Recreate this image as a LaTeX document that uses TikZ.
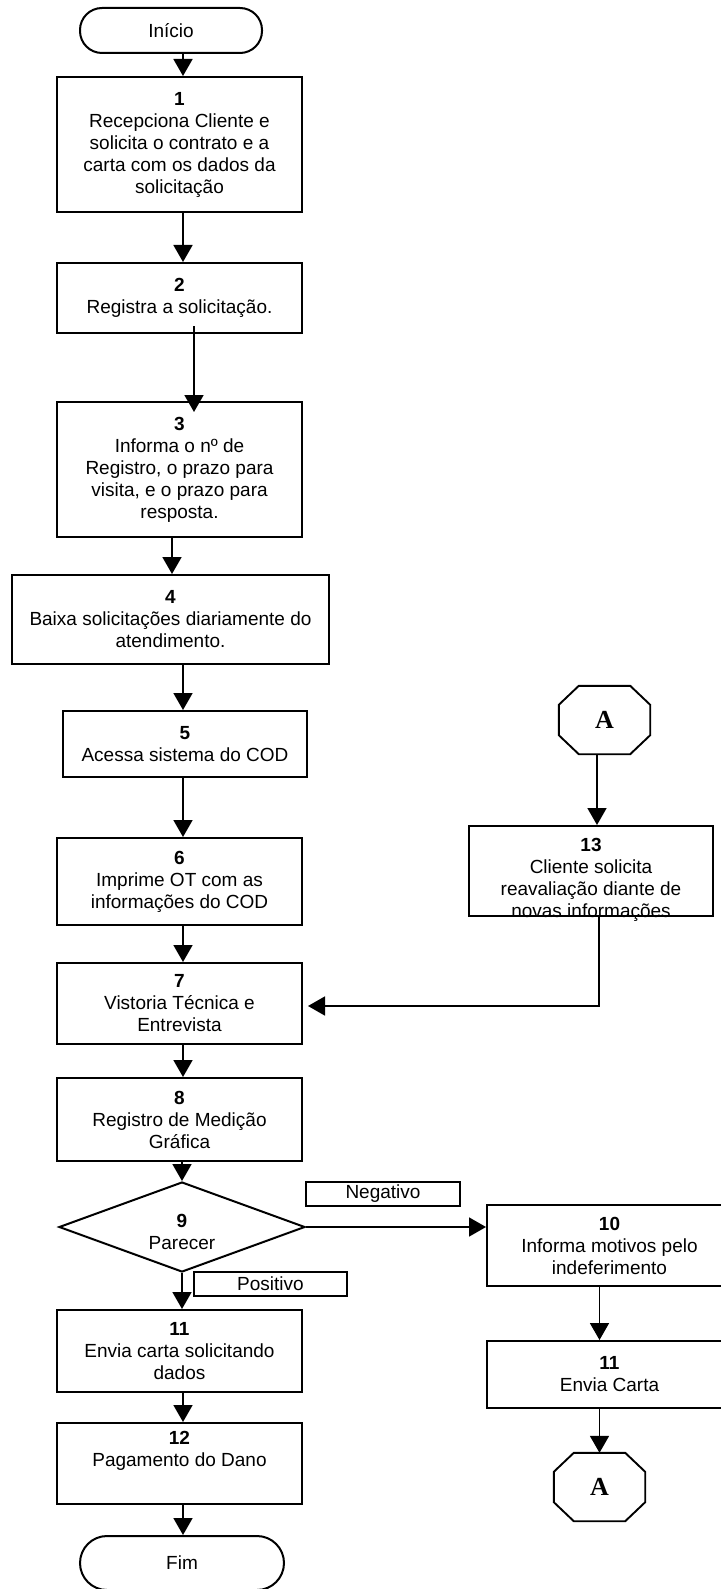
\documentclass[tikz,border=0pt]{standalone}
\usepackage{fontspec}
\setmainfont{Liberation Sans}
\newfontfamily\connfont{Liberation Serif}
\usetikzlibrary{arrows.meta,shapes.geometric,calc}

% octagonal off-page connector drawn round a named node
\newcommand\octpath[1]{%
  \draw[line width=1.9pt, line join=miter]
    ($(#1.north west)+(20,0)$) -- ($(#1.north east)+(-20,0)$)
    -- ($(#1.north east)+(0,19)$) -- ($(#1.south east)+(0,-19)$)
    -- ($(#1.south east)+(-20,0)$) -- ($(#1.south west)+(20,0)$)
    -- ($(#1.south west)+(0,-19)$) -- ($(#1.north west)+(0,19)$) -- cycle;}

\begin{document}
\begin{tikzpicture}[x=1pt,y=-1pt,
  every node/.style={font=\fontsize{19}{22}\selectfont, align=center, inner sep=0pt},
  stepbox/.style={draw, line width=2pt, minimum height=#1},
  stepbox/.default=80pt,
  terminal/.style={draw, line width=2pt},
  tag/.style={draw, line width=1.7pt, minimum width=154pt, minimum height=24pt},
  conn/.style={minimum width=91pt, minimum height=68pt,
    font=\connfont\bfseries\fontsize{26}{26}\selectfont},
  arr/.style={line width=1.8pt, -{Triangle[width=19pt,length=17pt]}}
]
\path[fill=white, use as bounding box] (0,0) rectangle (720,1589);

% x positions of the vertical connectors
\coordinate (xa) at (183,0);
\coordinate (xb) at (194,0);
\coordinate (xc) at (172,0);
\coordinate (xr) at (599.5,0);
\coordinate (xq) at (597,0);
\coordinate (turn) at (599,1006);

% main column
\node[terminal, rounded corners=22pt, minimum width=182pt, minimum height=45pt] (inicio) at (171,30.5) {Início};
\node[stepbox=135pt, minimum width=245pt] (b1) at (179.5,144.5)
  {\textbf{1}\\Recepciona Cliente e\\solicita o contrato e a\\carta com os dados da\\solicitação};
\node[stepbox=70pt, minimum width=245pt] (b2) at (179.5,298)
  {\textbf{2}\\Registra a solicitação.};
\node[stepbox=135pt, minimum width=245pt] (b3) at (179.5,469.5)
  {\textbf{3}\\Informa o nº de\\Registro, o prazo para\\visita, e o prazo para\\resposta.};
\node[stepbox=89pt, minimum width=317pt] (b4) at (170.5,619.5)
  {\textbf{4}\\Baixa solicitações diariamente do\\atendimento.};
\node[stepbox=66pt, minimum width=244pt] (b5) at (185,744)
  {\textbf{5}\\Acessa sistema do COD};
\node[stepbox=87pt, minimum width=245pt] (b6) at (179.5,881.5)
  {\textbf{6}\\Imprime OT com as\\informações do COD};
\node[stepbox=81pt, minimum width=245pt] (b7) at (179.5,1003.5)
  {\textbf{7}\\Vistoria Técnica e\\Entrevista};
\node[stepbox=83pt, minimum width=245pt] (b8) at (179.5,1119.5)
  {\textbf{8}\\Registro de Medição\\Gráfica};
\node[draw, diamond, aspect=2.73, line width=2pt, minimum width=246pt, minimum height=90pt] (d9) at (182,1227) {};
\node (t9) at ([yshift=-5pt]d9.center) {\textbf{9}\\Parecer};
\node[tag] (neg) at (383,1194) {Negativo};
\node[tag, minimum width=153pt] (pos) at (270.5,1284) {Positivo};
\node[stepbox=82pt, minimum width=245pt] (b11a) at (179.5,1351)
  {\textbf{11}\\Envia carta solicitando\\dados};
\node[stepbox=81pt, minimum width=245pt] (b12) at (179.5,1463.5)
  {\textbf{12}\\Pagamento do Dano\\\strut};
\node[terminal, rounded corners=27pt, minimum width=204pt, minimum height=54pt] (fim) at (182,1563) {Fim};

% right column
\node[conn] (a1) at (604.5,720) {A};
\octpath{a1}
\node[stepbox=90pt, minimum width=244pt] (b13) at (591,871) {};
\node (t13) at ([yshift=-9pt]b13.center)
  {\textbf{13}\\Cliente solicita\\reavaliação diante de\\novas informações};
\node[stepbox=81pt, minimum width=245pt] (b10) at (609.5,1245.5)
  {\textbf{10}\\Informa motivos pelo\\indeferimento};
\node[stepbox=67pt, minimum width=245pt] (b11b) at (609.5,1374.5)
  {\textbf{11}\\Envia Carta};
\node[conn] (a2) at (599.5,1487) {A};
\octpath{a2}

% connectors
\draw[arr] (inicio.south -| xa) -- (b1.north -| xa);
\draw[arr] (b1.south -| xa) -- (b2.north -| xa);
\draw[arr, shorten <=-8pt, shorten >=-11pt] (b2.south -| xb) -- (b3.north -| xb);
\draw[arr] (b3.south -| xc) -- (b4.north -| xc);
\draw[arr] (b4.south -| xa) -- (b5.north -| xa);
\draw[arr] (b5.south -| xa) -- (b6.north -| xa);
\draw[arr] (b6.south -| xa) -- (b7.north -| xa);
\draw[arr] (b7.south -| xa) -- (b8.north -| xa);
\draw[arr] (b8.south -| d9.north) -- (d9.north);
\draw[arr] (d9.south) -- (b11a.north -| d9.south);
\draw[arr] (d9.east) -- (b10.west |- d9.east);
\draw[arr] (b11a.south -| xa) -- (b12.north -| xa);
\draw[arr] (b12.south -| xa) -- (fim.north -| xa);
\draw[arr] (a1.south -| xq) -- (b13.north -| xq);
\draw[arr, shorten >=5pt] (b13.south -| turn) -- (turn) -- (b7.east |- turn);
\draw[arr] (b10.south -| xr) -- (b11b.north -| xr);
\draw[arr] (b11b.south -| a2.north) -- (a2.north);
\end{tikzpicture}
\end{document}
